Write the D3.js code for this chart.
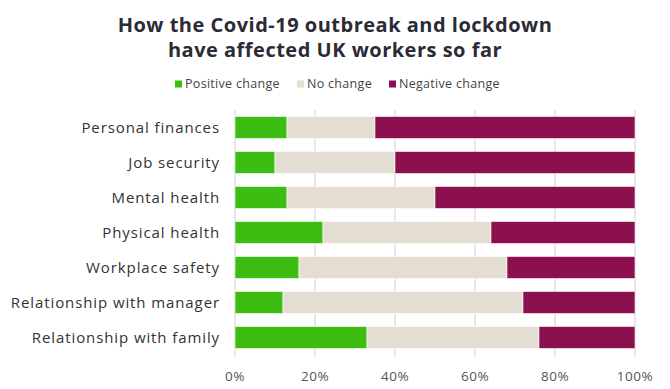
<!DOCTYPE html>
<html>
<head>
<meta charset="utf-8">
<script src="https://cdn.jsdelivr.net/npm/d3@7"></script>
<style>
  body { margin: 0; background: #fff; }
  svg { display: block; font-family: "Open Sans", sans-serif; }
</style>
</head>
<body>
<div id="chart"></div>
<script>
// categories, top to bottom
const categories = [
    "Personal finances",
    "Job security",
    "Mental health",
    "Physical health",
    "Workplace safety",
    "Relationship with manager",
    "Relationship with family"
];
const positive = [13, 10, 13, 22, 16, 12, 33];
const noChange = [22, 30, 37, 42, 52, 60, 43];
const negative = [65, 60, 50, 36, 32, 28, 24];

const seriesNames = ["Positive change", "No change", "Negative change"];
const seriesColors = ["#3dbd12", "#e4ddd2", "#8c0f4e"];
const ticks = [0, 20, 40, 60, 80, 100];

const width = 670, height = 389;
const margin = { top: 110, right: 35, bottom: 34, left: 235 };

const rows = categories.map((c, i) => ({
    category: c,
    "Positive change": positive[i],
    "No change": noChange[i],
    "Negative change": negative[i]
}));
const stacked = d3.stack().keys(seriesNames)(rows);

const svg = d3.select("#chart")
    .append("svg")
    .attr("width", width)
    .attr("height", height);

const x = d3.scaleLinear()
    .domain([0, 100])
    .range([margin.left, width - margin.right]);

const y = d3.scaleBand()
    .domain(categories)
    .range([margin.top, height - margin.bottom])
    .paddingInner(0.37)
    .paddingOuter(0.185);

// title, two lines
const titleLines = ["How the Covid-19 outbreak and lockdown", "have affected UK workers so far"];
svg.append("g")
    .selectAll("text")
    .data(titleLines)
    .join("text")
    .attr("x", width / 2)
    .attr("y", (d, i) => 32 + i * 25)
    .attr("text-anchor", "middle")
    .attr("font-size", "20px")
    .attr("font-weight", "bold")
    .attr("letter-spacing", "0.5px")
    .attr("fill", "#2b2b35")
    .text(d => d);

// legend
const legendX = [175, 297, 389];
const legend = svg.append("g")
    .selectAll("g")
    .data(seriesNames)
    .join("g")
    .attr("transform", (d, i) => `translate(${legendX[i]},84)`);
legend.append("rect")
    .attr("x", 0).attr("y", -3.5)
    .attr("width", 7).attr("height", 7)
    .attr("fill", (d, i) => seriesColors[i]);
legend.append("text")
    .attr("x", 10)
    .attr("y", 0)
    .attr("dy", "0.35em")
    .attr("font-size", "12.5px")
    .attr("letter-spacing", "0.3px")
    .attr("fill", "#444")
    .text(d => d);

// grid lines
svg.append("g")
    .selectAll("line")
    .data(ticks)
    .join("line")
    .attr("x1", d => x(d)).attr("x2", d => x(d))
    .attr("y1", margin.top)
    .attr("y2", height - margin.bottom + 2)
    .attr("stroke", "#e0dde4")
    .attr("stroke-width", 1.5);

// bars
svg.append("g")
    .selectAll("g")
    .data(stacked)
    .join("g")
    .attr("fill", (d, i) => seriesColors[i])
    .selectAll("rect")
    .data(d => d)
    .join("rect")
    .attr("x", d => x(d[0]))
    .attr("y", d => y(d.data.category))
    .attr("width", d => x(d[1]) - x(d[0]))
    .attr("height", y.bandwidth())
    .attr("stroke", "#fff")
    .attr("stroke-width", 0.6);

// category labels
svg.append("g")
    .selectAll("text")
    .data(categories)
    .join("text")
    .attr("x", 220)
    .attr("y", d => y(d) + y.bandwidth() / 2)
    .attr("dy", "0.35em")
    .attr("text-anchor", "end")
    .attr("font-size", "15px")
    .attr("letter-spacing", "0.9px")
    .attr("fill", "#333")
    .text(d => d);

// x tick labels
svg.append("g")
    .selectAll("text")
    .data(ticks)
    .join("text")
    .attr("x", d => x(d))
    .attr("y", 376)
    .attr("dy", "0.35em")
    .attr("text-anchor", "middle")
    .attr("font-size", "13.5px")
    .attr("letter-spacing", "0.5px")
    .attr("fill", "#555")
    .text(d => d + "%");
</script>
</body>
</html>
